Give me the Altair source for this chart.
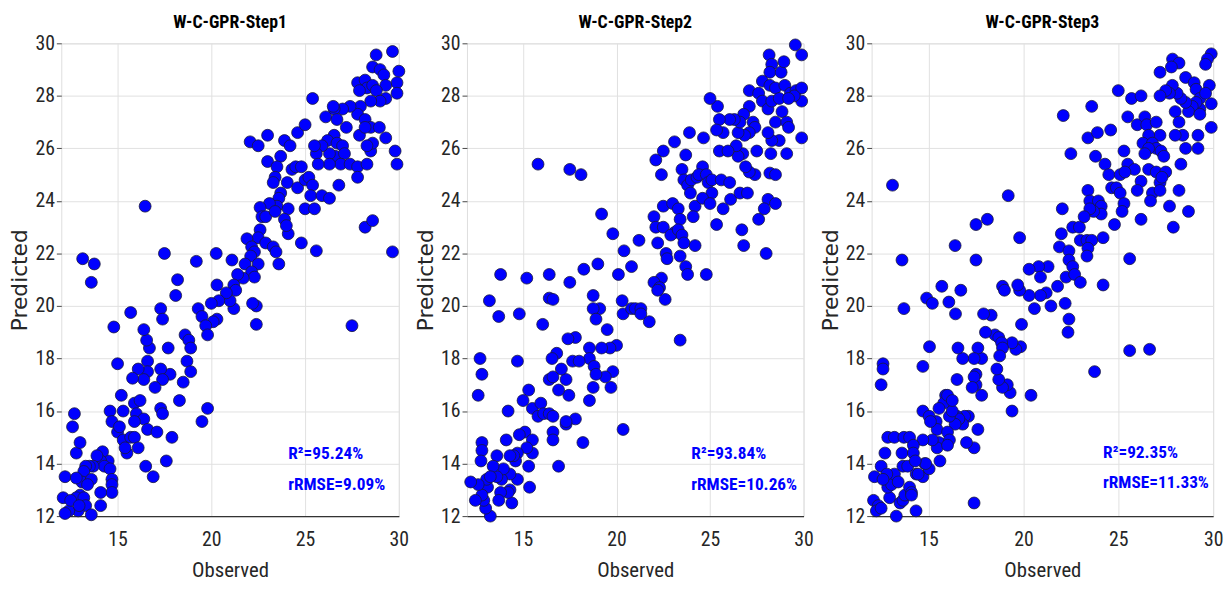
import altair as alt
import pandas as pd

COND = "Roboto Condensed, Open Sans Condensed, DejaVu Sans Condensed, sans-serif"

titles = ["W-C-GPR-Step1", "W-C-GPR-Step2", "W-C-GPR-Step3"]
r2_labels = ["R²=95.24%", "R²=93.84%", "R²=92.35%"]
rrmse_labels = ["rRMSE=9.09%", "rRMSE=10.26%", "rRMSE=11.33%"]
label_x = [24.1, 24.0, 24.2]
r2_y = [14.35, 14.35, 14.4]
rrmse_y = [13.2, 13.2, 13.25]
x_ticks = [15, 20, 25, 30]
y_ticks = [12, 14, 16, 18, 20, 22, 24, 26, 28, 30]

# (Observed, Predicted)
points1 = [
    (29.66, 29.69), (28.79, 29.56), (30.0, 28.94), (29.9, 28.5), (29.9, 28.1), (28.6, 29.1), (29.0, 29.0),
    (29.2, 28.8), (29.3, 28.4), (29.3, 27.9), (27.8, 28.5), (28.2, 28.6), (28.3, 28.3), (27.9, 28.2),
    (28.6, 28.4), (28.8, 28.2), (29.0, 27.8), (28.5, 27.8), (27.95, 27.6), (27.8, 27.3), (28.2, 27.1),
    (28.5, 26.8), (27.4, 27.6), (27.0, 27.5), (26.55, 27.5), (25.4, 27.9), (26.5, 27.6), (26.1, 27.2),
    (26.7, 27.1), (27.2, 26.8), (26.55, 26.5), (26.2, 26.3), (26.7, 26.2), (27.0, 26.1), (26.6, 25.7),
    (26.3, 25.8), (25.9, 26.1), (25.6, 25.8), (27.1, 25.8), (26.9, 25.4), (26.3, 25.4), (27.4, 25.4),
    (27.8, 25.3), (28.3, 25.4), (28.5, 25.9), (28.6, 26.2), (27.9, 26.5), (28.2, 26.8), (27.8, 24.9),
    (28.3, 26.1), (28.96, 26.8), (29.3, 26.4), (29.8, 25.9), (29.9, 25.4), (22.07, 26.25), (22.5, 26.1),
    (23.0, 26.5), (23.0, 25.5), (23.9, 26.3), (24.2, 26.1), (24.6, 26.6), (25.0, 26.9), (25.5, 26.1),
    (25.7, 25.4), (23.7, 25.7), (23.5, 25.3), (23.4, 24.9), (23.3, 24.7), (24.05, 24.7), (24.3, 25.2),
    (24.5, 25.3), (24.8, 25.3), (24.6, 24.5), (25.0, 24.8), (25.2, 24.9), (25.4, 24.6), (25.3, 24.2),
    (25.0, 23.7), (25.5, 23.7), (25.9, 24.2), (26.3, 24.1), (26.8, 24.6), (28.2, 23.0), (28.6, 23.25),
    (29.66, 22.06), (25.6, 22.1), (24.8, 22.4), (24.1, 22.75), (23.6, 21.6), (23.7, 24.3), (23.6, 24.1),
    (23.5, 23.8), (23.1, 23.9), (22.6, 23.75), (22.7, 23.4), (22.9, 23.4), (23.4, 23.6), (24.1, 23.7),
    (23.9, 23.3), (24.0, 23.06), (22.6, 22.9), (22.5, 22.6), (22.9, 22.4), (23.3, 22.25), (23.45, 22.06),
    (21.9, 22.56), (22.15, 22.25), (22.3, 22.06), (22.1, 21.9), (21.8, 21.6), (22.5, 21.6), (22.15, 21.3),
    (22.3, 21.1), (21.7, 21.06), (21.4, 21.2), (21.2, 20.8), (21.1, 21.75), (20.26, 22.0), (20.3, 20.8),
    (16.47, 23.8), (17.5, 22.0), (13.14, 21.8), (13.76, 21.6), (13.6, 20.9), (19.2, 21.7), (18.2, 21.0),
    (27.5, 19.25), (22.4, 19.3), (22.4, 20.0), (22.2, 20.1), (21.2, 19.9), (21.0, 20.2), (21.3, 20.6),
    (20.8, 20.5), (20.4, 20.2), (20.3, 19.5), (20.0, 20.1), (20.1, 19.4), (19.3, 19.9), (19.5, 19.6),
    (19.7, 19.25), (19.8, 18.9), (19.8, 16.1), (19.5, 15.6), (18.1, 20.4), (17.3, 19.9), (17.4, 19.5),
    (18.6, 18.9), (18.8, 18.7), (18.9, 18.4), (18.7, 17.9), (18.9, 17.5), (18.5, 17.1), (18.3, 16.4),
    (17.7, 18.4), (17.8, 17.4), (17.3, 17.6), (17.4, 17.2), (17.0, 16.9), (16.7, 18.4), (16.55, 18.7),
    (16.4, 19.1), (16.6, 17.9), (16.6, 17.5), (16.4, 17.2), (16.1, 17.6), (15.8, 17.25), (15.7, 19.75),
    (14.8, 19.2), (15.0, 17.8), (15.2, 16.6), (15.9, 16.3), (16.0, 15.9), (16.4, 15.7), (16.6, 15.3),
    (15.9, 15.6), (16.2, 16.4), (15.3, 16.0), (17.3, 16.1), (17.4, 15.9), (17.1, 15.2), (17.9, 15.0),
    (17.6, 14.1), (16.9, 13.5), (16.5, 13.9), (14.6, 16.0), (14.7, 15.6), (15.0, 15.2), (15.1, 15.4),
    (15.3, 14.9), (15.5, 14.4), (15.7, 15.0), (15.4, 14.6), (15.9, 15.0), (16.1, 14.6), (14.5, 14.1),
    (14.2, 14.45), (14.1, 14.1), (14.3, 13.9), (14.6, 13.8), (14.7, 13.4), (14.7, 13.2), (14.7, 12.9),
    (14.1, 12.9), (14.1, 12.4), (13.9, 14.3), (13.7, 13.9), (13.5, 13.9), (13.3, 13.9), (13.2, 13.7),
    (13.1, 13.3), (13.6, 13.4), (13.4, 13.2), (13.0, 12.8), (12.8, 12.7), (13.2, 12.7), (13.3, 12.4),
    (12.9, 12.2), (12.4, 12.2), (12.2, 12.1), (12.1, 12.7), (12.2, 13.5), (12.7, 15.9), (12.6, 15.4),
    (12.8, 14.4), (13.0, 14.8), (12.8, 13.45), (13.6, 12.05), (12.5, 12.6), (12.95, 12.4),
]

points2 = [
    (29.56, 29.94), (29.9, 29.56), (28.16, 29.56), (28.3, 29.2), (28.2, 28.9), (28.8, 28.9), (28.95, 29.3),
    (27.8, 28.56), (27.1, 28.2), (27.6, 28.1), (28.2, 28.4), (28.5, 28.3), (29.0, 28.4), (29.3, 28.1),
    (29.6, 28.2), (29.9, 28.3), (29.9, 27.8), (29.5, 28.0), (27.8, 27.8), (28.1, 27.5), (28.3, 27.8),
    (28.7, 27.9), (29.2, 27.9), (28.85, 27.4), (28.5, 27.0), (29.1, 27.0), (29.2, 26.8), (29.9, 26.4),
    (29.1, 25.8), (28.7, 26.3), (28.3, 26.3), (28.1, 26.6), (28.25, 25.8), (28.2, 25.06), (28.5, 25.0),
    (28.1, 24.06), (28.5, 23.9), (27.9, 23.7), (27.6, 23.3), (28.0, 22.0), (27.5, 25.9), (27.4, 25.0),
    (27.1, 25.1), (26.9, 25.3), (26.75, 25.8), (26.5, 25.7), (27.1, 27.6), (26.8, 27.3), (27.3, 27.0),
    (27.4, 26.8), (27.1, 26.6), (26.85, 26.5), (26.5, 26.6), (26.4, 26.1), (26.6, 27.0), (26.3, 27.1),
    (26.05, 27.1), (25.7, 26.6), (25.4, 27.6), (25.5, 27.1), (25.35, 26.7), (25.5, 25.9), (25.96, 25.9),
    (25.0, 27.9), (24.65, 26.4), (23.9, 26.6), (23.1, 26.25), (22.5, 25.9), (22.1, 25.56), (22.4, 25.0),
    (23.7, 25.75), (23.5, 25.2), (23.6, 24.8), (23.8, 24.6), (23.95, 24.3), (24.2, 23.8), (24.1, 23.4),
    (24.2, 22.3), (24.0, 24.8), (24.3, 24.9), (24.6, 25.3), (24.4, 25.0), (24.8, 25.0), (24.9, 24.7),
    (25.1, 24.8), (25.6, 24.8), (25.1, 24.3), (24.6, 24.1), (25.0, 23.9), (25.35, 23.1), (25.7, 23.7),
    (26.1, 24.06), (26.05, 24.7), (26.6, 24.3), (27.0, 24.3), (26.7, 22.9), (26.8, 22.3), (22.5, 23.8),
    (22.0, 23.4), (22.1, 23.0), (22.5, 23.0), (22.2, 22.4), (22.65, 22.0), (22.7, 21.8), (23.0, 23.9),
    (23.3, 23.7), (23.4, 23.3), (23.1, 22.8), (22.9, 22.7), (23.3, 22.9), (23.5, 22.7), (23.6, 22.4),
    (23.4, 21.9), (23.7, 21.5), (23.8, 21.2), (22.4, 21.06), (22.0, 20.9), (22.3, 20.7), (24.8, 21.2),
    (21.2, 22.5), (20.4, 22.1), (19.8, 22.75), (19.2, 23.5), (20.8, 21.5), (20.1, 21.2), (19.0, 21.6),
    (18.25, 21.4), (17.5, 20.9), (16.4, 21.2), (15.2, 21.06), (13.8, 21.2), (15.8, 25.4), (17.5, 25.2),
    (18.1, 25.0), (23.4, 18.7), (22.2, 20.6), (22.6, 20.25), (20.3, 20.2), (20.35, 19.7), (20.8, 19.9),
    (21.0, 19.9), (21.3, 19.9), (21.3, 19.7), (21.75, 19.4), (20.35, 15.3), (20.0, 18.5), (19.8, 17.5),
    (19.7, 16.9), (19.5, 19.1), (19.65, 18.4), (19.4, 17.3), (19.2, 18.4), (19.1, 19.9), (18.75, 20.4),
    (18.75, 19.9), (18.9, 19.5), (18.55, 18.4), (18.55, 18.0), (18.8, 17.7), (18.9, 17.4), (18.75, 16.9),
    (18.55, 16.4), (18.2, 14.8), (17.8, 18.8), (17.4, 18.75), (17.65, 17.9), (18.0, 17.9), (17.8, 15.7),
    (17.45, 16.6), (17.3, 17.2), (17.3, 15.5), (17.3, 15.6), (16.8, 18.2), (16.55, 18.0), (16.4, 17.2),
    (16.6, 17.3), (16.9, 16.8), (17.05, 17.6), (16.9, 13.9), (16.4, 20.3), (16.6, 20.25), (16.05, 19.3),
    (14.8, 19.7), (13.7, 19.6), (13.2, 20.2), (14.7, 17.9), (12.7, 18.0), (12.8, 17.4), (12.6, 16.6),
    (14.2, 16.0), (15.3, 16.8), (15.0, 16.4), (15.5, 16.1), (15.8, 15.8), (15.95, 16.3), (16.1, 15.9),
    (16.4, 15.9), (16.6, 15.8), (16.6, 15.2), (16.6, 14.9), (15.1, 15.2), (15.5, 14.9), (15.5, 14.4),
    (15.2, 14.6), (15.3, 13.9), (15.35, 13.1), (14.8, 15.1), (14.7, 14.4), (14.6, 14.1), (14.5, 14.3),
    (14.7, 13.4), (14.3, 14.3), (14.3, 13.6), (14.1, 14.9), (14.3, 13.0), (14.4, 12.5), (14.2, 12.9),
    (13.8, 12.9), (13.85, 13.4), (13.95, 13.8), (13.6, 13.5), (13.7, 12.6), (13.25, 12.0), (13.0, 12.3),
    (12.9, 12.6), (13.1, 13.1), (13.05, 13.4), (12.8, 12.8), (12.6, 13.2), (12.45, 12.6), (12.2, 13.3),
    (12.8, 14.8), (12.8, 14.5), (12.75, 14.1), (13.6, 14.3), (13.4, 13.9), (13.25, 13.5),
]

points3 = [
    (29.9, 29.6), (29.7, 29.4), (29.6, 29.2), (27.86, 29.4), (28.2, 29.25), (27.8, 29.1), (27.2, 28.9),
    (28.55, 28.7), (29.0, 28.5), (29.1, 28.25), (29.3, 27.9), (29.3, 27.5), (29.1, 27.75), (28.9, 27.6),
    (28.7, 27.4), (28.55, 27.75), (28.3, 27.9), (28.1, 28.1), (27.85, 28.4), (27.7, 28.1), (27.5, 28.2),
    (27.2, 28.0), (28.0, 27.4), (28.2, 27.0), (28.4, 26.5), (28.0, 26.5), (28.55, 26.0), (29.8, 28.4),
    (29.9, 27.7), (29.9, 26.8), (29.6, 28.1), (29.3, 27.3), (29.2, 26.5), (29.2, 26.0), (28.3, 25.4),
    (28.2, 24.4), (28.7, 23.6), (27.9, 23.0), (27.7, 23.8), (25.0, 28.2), (25.7, 27.9), (26.2, 28.0),
    (25.5, 27.2), (26.0, 26.9), (26.4, 27.2), (26.5, 26.9), (27.0, 27.0), (27.2, 26.5), (26.6, 26.5),
    (26.3, 26.2), (26.8, 26.2), (27.0, 26.0), (26.6, 26.0), (26.4, 25.8), (27.25, 25.9), (27.4, 25.7),
    (26.6, 25.2), (27.0, 25.1), (27.5, 25.1), (27.2, 24.7), (26.8, 24.3), (26.7, 24.0), (27.2, 24.4),
    (27.3, 24.9), (25.3, 25.9), (25.5, 25.4), (25.85, 25.2), (26.2, 24.75), (26.0, 24.4), (26.2, 23.3),
    (25.6, 21.8), (24.6, 26.7), (24.3, 25.4), (24.5, 25.0), (24.65, 24.5), (25.1, 25.0), (25.35, 25.1),
    (24.9, 24.5), (25.1, 24.3), (25.3, 23.9), (25.2, 23.6), (24.8, 23.1), (22.1, 27.25), (22.5, 25.8),
    (23.4, 26.4), (23.9, 26.6), (23.6, 27.6), (23.8, 25.7), (23.4, 24.4), (23.5, 24.0), (23.95, 24.0),
    (24.1, 23.8), (24.1, 23.5), (23.7, 23.6), (23.5, 23.7), (22.05, 23.7), (22.0, 22.75), (21.9, 22.25),
    (22.6, 23.0), (22.95, 23.0), (23.2, 23.4), (23.0, 22.5), (23.35, 22.5), (23.6, 22.5), (23.4, 22.2),
    (23.35, 21.9), (22.4, 22.1), (22.4, 21.75), (22.6, 21.5), (22.25, 21.1), (22.7, 21.2), (23.0, 20.9),
    (24.2, 22.6), (24.2, 20.8), (21.8, 20.75), (21.3, 21.5), (20.8, 21.5), (20.3, 21.4), (20.9, 21.1),
    (21.2, 20.5), (20.9, 20.4), (20.3, 20.4), (19.8, 20.6), (19.7, 20.8), (19.8, 22.6), (19.2, 24.2),
    (18.1, 23.3), (17.5, 23.1), (17.5, 21.75), (16.4, 22.3), (15.7, 20.75), (16.7, 20.6), (18.9, 20.75),
    (19.0, 20.6), (13.1, 24.6), (13.6, 21.75), (14.9, 20.3), (26.65, 18.35), (25.6, 18.3), (23.75, 17.5),
    (22.2, 20.1), (22.4, 19.5), (22.35, 19.0), (19.9, 19.3), (20.58, 19.9), (21.45, 20.0), (20.4, 16.6),
    (19.85, 18.45), (19.6, 18.35), (19.4, 18.6), (19.3, 16.7), (19.4, 16.0), (19.15, 17.0), (18.9, 16.9),
    (18.7, 17.2), (18.6, 17.6), (18.5, 18.9), (18.7, 18.8), (18.85, 18.6), (18.9, 18.4), (18.75, 18.1),
    (18.3, 19.65), (18.0, 19.0), (17.9, 19.7), (17.8, 18.0), (17.6, 18.4), (17.5, 17.0), (17.8, 16.6),
    (17.5, 17.4), (17.4, 17.3), (17.3, 16.9), (17.4, 18.0), (17.6, 15.3), (17.4, 14.6), (17.0, 14.8),
    (17.4, 12.5), (17.1, 15.8), (16.9, 15.8), (16.8, 15.5), (16.5, 15.8), (16.6, 15.7), (16.4, 15.5),
    (16.5, 17.2), (16.8, 18.0), (16.55, 18.4), (16.42, 19.7), (16.07, 20.15), (15.2, 20.1), (15.05, 18.45),
    (14.7, 17.7), (14.7, 16.0), (13.7, 19.9), (12.6, 17.8), (12.6, 17.6), (12.5, 17.0), (15.9, 16.6),
    (15.8, 16.3), (16.0, 16.6), (16.1, 15.8), (16.25, 16.0), (16.25, 16.4), (15.55, 16.1), (15.4, 15.6),
    (15.45, 15.3), (15.55, 14.8), (15.45, 14.6), (15.6, 14.1), (15.03, 15.8), (15.1, 15.6), (15.2, 14.9),
    (16.0, 15.2), (16.1, 14.9), (16.0, 14.7), (14.7, 14.9), (14.7, 13.5), (14.8, 14.0), (15.03, 13.8),
    (14.85, 14.0), (12.15, 13.5), (12.5, 13.9), (12.7, 14.4), (12.85, 15.0), (13.2, 15.0), (13.7, 15.0),
    (14.0, 15.0), (13.6, 14.4), (13.65, 13.9), (13.9, 13.9), (14.2, 14.7), (14.2, 14.4), (14.3, 14.1),
    (14.35, 13.6), (14.45, 13.6), (12.1, 12.6), (12.35, 12.4), (12.25, 12.2), (12.5, 12.3), (12.95, 12.7),
    (12.85, 13.1), (13.05, 13.2), (13.3, 12.0), (13.5, 12.5), (13.65, 12.6), (13.75, 12.8), (14.0, 13.1),
    (14.1, 12.9), (14.1, 12.8), (14.34, 12.2), (13.2, 13.6), (13.4, 13.3), (12.8, 13.6), (12.6, 13.4),
]

all_points = [points1, points2, points3]
widths = [342, 341, 346]
HEIGHT = 479

xs = alt.Scale(domain=[12, 30], nice=False, zero=False)
ys = alt.Scale(domain=[12, 30], nice=False, zero=False)

x_axis = alt.Axis(
    values=x_ticks, title="Observed", grid=True, gridColor="#e1e1e1", gridWidth=1,
    domainColor="#333333", domainWidth=1.2, ticks=False,
    labelFont=COND, labelFontSize=20, labelColor="#262626", labelPadding=14,
    labelFlush=False, titleFont=COND, titleFontSize=21, titleFontWeight="normal",
    titleColor="#262626", titlePadding=10,
)
y_axis = alt.Axis(
    values=y_ticks, title="Predicted", grid=True, gridColor="#e1e1e1", gridWidth=1,
    domain=False, tickColor="#444444", tickSize=5,
    labelFont=COND, labelFontSize=20, labelColor="#262626", labelPadding=2,
    titleFont="DejaVu Sans", titleFontSize=22, titleFontWeight="normal",
    titleColor="#262626", titlePadding=3,
)


def panel(i):
    df = pd.DataFrame(all_points[i], columns=["Observed", "Predicted"])
    pts = alt.Chart(df).mark_circle(
        size=145, color="#0000ff", opacity=1, stroke="#1a1a3a", strokeWidth=0.8
    ).encode(
        x=alt.X("Observed:Q", scale=xs, axis=x_axis),
        y=alt.Y("Predicted:Q", scale=ys, axis=y_axis),
    )
    ann = pd.DataFrame({
        "Observed": [label_x[i], label_x[i]],
        "Predicted": [r2_y[i], rrmse_y[i]],
        "label": [r2_labels[i], rrmse_labels[i]],
    })
    txt = alt.Chart(ann).mark_text(
        align="left", baseline="middle", font=COND, fontSize=17.5,
        fontWeight="bold", color="#0000ff"
    ).encode(
        x=alt.X("Observed:Q", scale=xs),
        y=alt.Y("Predicted:Q", scale=ys),
        text="label:N",
    )
    head = alt.Chart(pd.DataFrame({"t": [titles[i]]})).mark_text(
        align="center", baseline="middle", font=COND, fontSize=18,
        fontWeight="bold", color="#000000"
    ).encode(
        x=alt.value(widths[i] / 2), y=alt.value(-21), text="t:N"
    )
    return alt.layer(pts, txt, head).properties(width=widths[i], height=HEIGHT)


chart = alt.hconcat(panel(0), panel(1), panel(2), spacing=4).properties(
    padding={"left": 0, "top": 1, "right": 0, "bottom": 0}
).configure_view(stroke=None).configure(background="white")

chart.save("out.html", embed_options={"renderer": "svg", "actions": False})
